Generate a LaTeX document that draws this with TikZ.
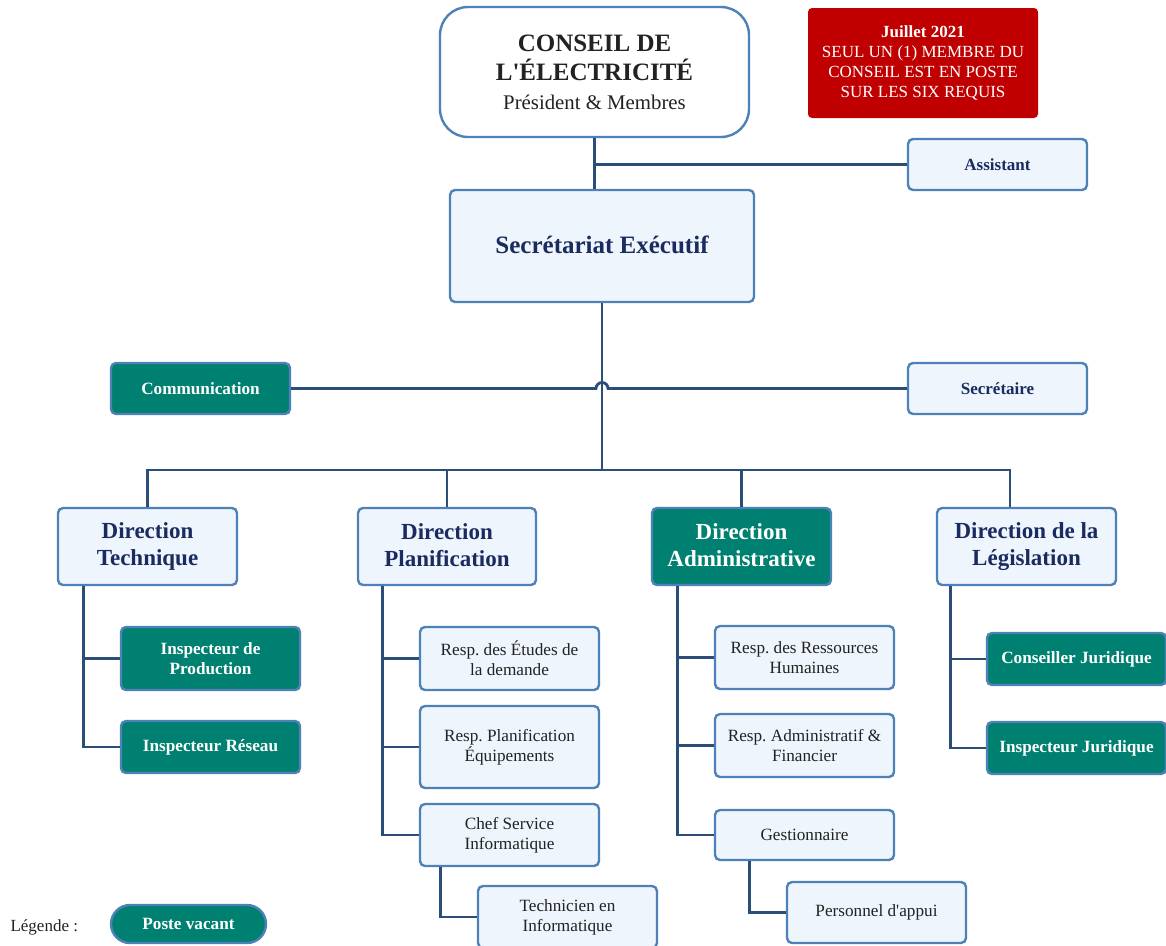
\documentclass[tikz,border=0pt]{standalone}
\usepackage{fontspec}
\setmainfont{Liberation Serif}[Ligatures=TeXOff]
\usetikzlibrary{calc}
\frenchspacing
\definecolor{linenavy}{HTML}{2A4E78}
\definecolor{boxborder}{HTML}{4F81B9}
\definecolor{lightfill}{HTML}{EEF5FD}
\definecolor{tealfill}{HTML}{008070}
\definecolor{titlenavy}{HTML}{1A2B5F}
\definecolor{darktext}{HTML}{222222}
\definecolor{alertred}{HTML}{C00000}
\newcommand{\bigtitle}{\fontsize{25}{29}\selectfont\bfseries}
\newcommand{\subtitle}{\fontsize{20.8}{29}\selectfont\mdseries}
\tikzset{
  base/.style={draw=boxborder, line width=2.4pt, rounded corners=5pt, align=center, inner sep=2pt},
  lightbox/.style={base, fill=lightfill},
  vacant/.style={base, fill=tealfill, text=white, font=\fontsize{17.2}{20}\selectfont\bfseries},
  titlebox/.style={lightbox, text=titlenavy, font=\fontsize{23}{27}\selectfont\bfseries},
  smallbold/.style={lightbox, text=titlenavy, font=\fontsize{17}{20}\selectfont\bfseries},
  childbox/.style={lightbox, text=darktext, font=\fontsize{17.2}{20}\selectfont},
  conn/.style={draw=linenavy, line width=2.8pt},
}
\begin{document}
\begin{tikzpicture}[x=1pt, y=-1pt]
\useasboundingbox (0,0) rectangle (1166,945);

% Top of the hierarchy
\node[base, fill=white, rounded corners=28pt, minimum width=309pt, minimum height=130pt, text=darktext, font=\bigtitle]
  (conseil) at (594.5,72) {CONSEIL DE\\ L'ÉLECTRICITÉ\\ \subtitle Président \& Membres};
\node[fill=alertred, rounded corners=4pt, minimum width=230pt, minimum height=110pt, text=white, align=center,
  font=\fontsize{17}{20}\selectfont] (note) at (923,63)
  {\textbf{Juillet 2021}\\ SEUL UN (1) MEMBRE DU\\ CONSEIL EST EN POSTE\\ SUR LES SIX REQUIS};
\node[smallbold, minimum width=179pt, minimum height=51pt] (assist) at (997.5,164.5) {Assistant};
\node[titlebox, font=\fontsize{25}{28}\selectfont\bfseries, minimum width=304pt, minimum height=112pt]
  (secr) at (602,246) {\raisebox{3pt}{Secrétariat Exécutif}};
\node[vacant, minimum width=179pt, minimum height=51pt] (comm) at (200.5,388.5) {Communication};
\node[smallbold, minimum width=179pt, minimum height=51pt] (secre) at (997.5,388.5) {Secrétaire};

% Directions
\node[titlebox, minimum width=179pt, minimum height=77pt] (dt) at (147.5,546.5) {Direction\\ Technique};
\node[titlebox, minimum width=178pt, minimum height=77pt] (dp) at (447,546.5) {\raisebox{3pt}{Direction}\\ \raisebox{3pt}{Planification}};
\node[vacant, font=\fontsize{23}{27}\selectfont\bfseries, minimum width=179pt, minimum height=77pt]
  (da) at (741.5,546.5) {\raisebox{2pt}{Direction}\\ \raisebox{2pt}{Administrative}};
\node[titlebox, minimum width=179pt, minimum height=77pt] (dl) at (1026.5,546.5) {Direction de la\\ Législation};

% Direction Technique
\node[vacant, minimum width=179pt, minimum height=63pt] (iprod) at (210.5,658.5) {Inspecteur de\\ Production};
\node[vacant, minimum width=179pt, minimum height=52pt] (ires) at (210.5,747) {Inspecteur Réseau};

% Direction Planification
\node[childbox, minimum width=179pt, minimum height=63pt] (etud) at (509.5,658.5) {Resp. des Études de\\ la demande};
\node[childbox, minimum width=179pt, minimum height=82pt] (plan) at (509.5,747) {Resp. Planification\\ Équipements};
\node[childbox, minimum width=179pt, minimum height=62pt] (chef) at (509.5,835) {Chef Service\\ Informatique};
\node[childbox, minimum width=179pt, minimum height=62pt] (tech) at (567.5,917) {Technicien en\\ Informatique};

% Direction Administrative
\node[childbox, minimum width=179pt, minimum height=63pt] (rh) at (804.5,657.5) {Resp. des Ressources\\ Humaines};
\node[childbox, minimum width=179pt, minimum height=63pt] (raf) at (804.5,745.5) {Resp. Administratif \&\\ Financier};
\node[childbox, minimum width=179pt, minimum height=50pt] (gest) at (804.5,835) {Gestionnaire};
\node[childbox, minimum width=179pt, minimum height=61pt] (pers) at (876.5,912.5) {Personnel d'appui};

% Direction de la Législation
\node[vacant, minimum width=179pt, minimum height=52pt] (cjur) at (1076.5,659) {Conseiller Juridique};
\node[vacant, minimum width=179pt, minimum height=52pt] (ijur) at (1076.5,748) {Inspecteur Juridique};

% Legend
\node[font=\fontsize{17}{20}\selectfont, text=darktext, anchor=west] (legtxt) at (7,927) {Légende :};
\node[vacant, rounded corners=19pt, minimum width=155pt, minimum height=38pt] (legbox) at (188.5,924) {Poste vacant};

% Connectors
\coordinate (bus) at (602,470);
\draw[conn] (conseil.south) -- (conseil.south |- secr.north);
\draw[conn] (conseil.south |- assist.west) -- (assist.west);
\draw[conn] (secr.south) -- (bus);
\draw[conn] (comm.east) -- ($(comm.east -| secr.south)+(-6,0)$) arc (180:360:6) -- (secre.west);
\draw[conn] (dt.north) |- (bus) -| ([xshift=-16.5pt]dl.north);
\draw[conn] (dp.north) -- (dp.north |- bus);
\draw[conn] (da.north) -- (da.north |- bus);

\draw[conn] ([xshift=27pt]dt.south west) |- (iprod.west);
\draw[conn] ([xshift=27pt]dt.south west) |- (ires.west);

\draw[conn] ([xshift=26pt]dp.south west) |- (etud.west);
\draw[conn] ([xshift=26pt]dp.south west) |- (plan.west);
\draw[conn] ([xshift=26pt]dp.south west) |- (chef.west);
\draw[conn] ([xshift=22pt]chef.south west) |- (tech.west);

\draw[conn] ([xshift=27pt]da.south west) |- (rh.west);
\draw[conn] ([xshift=27pt]da.south west) |- (raf.west);
\draw[conn] ([xshift=27pt]da.south west) |- (gest.west);
\draw[conn] ([xshift=36pt]gest.south west) |- (pers.west);

\draw[conn] ([xshift=15pt]dl.south west) |- (cjur.west);
\draw[conn] ([xshift=15pt]dl.south west) |- (ijur.west);
\end{tikzpicture}
\end{document}
